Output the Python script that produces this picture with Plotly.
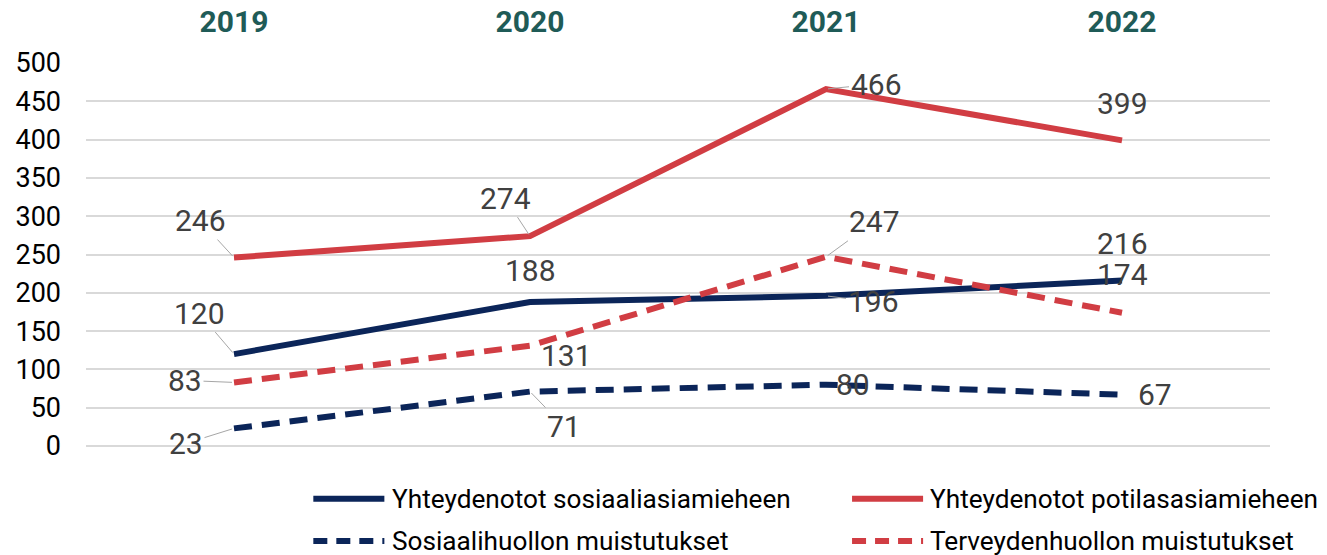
import plotly.graph_objects as go

years = ["2019", "2020", "2021", "2022"]
series_names = [
    "Yhteydenotot sosiaaliasiamieheen",
    "Yhteydenotot potilasasiamieheen",
    "Sosiaalihuollon muistutukset",
    "Terveydenhuollon muistutukset",
]
sos_contacts = [120, 188, 196, 216]
pot_contacts = [246, 274, 466, 399]
sos_reminders = [23, 71, 80, 67]
ter_reminders = [83, 131, 247, 174]

NAVY = "#0B2559"
RED = "#D13D43"
series_values = [sos_contacts, pot_contacts, sos_reminders, ter_reminders]
series_colors = [NAVY, RED, NAVY, RED]
series_dash = ["solid", "solid", "18px,10px", "18px,10px"]

# label offsets in pixels (dx, dy) and whether a leader line is drawn
label_style = [
    [(-35, -41, True), (0, -31, False), (47, 6, True), (0, -37, False)],
    [(-34, -37, True), (-25, -38, True), (50, -5, True), (0, -37, False)],
    [(-48, 15, True), (34, 35, True), (27, 0, False), (33, 0, False)],
    [(-49, -2, True), (36, 10, False), (48, -35, True), (0, -38, False)],
]

fig = go.Figure()
for name, vals, col, dash in zip(series_names, series_values, series_colors, series_dash):
    fig.add_trace(go.Scatter(
        x=years, y=vals, mode="lines", name=name,
        line=dict(color=col, width=6, dash=dash),
        showlegend=False,
    ))

annotations = []
label_font = dict(family="Roboto", size=30, color="#404040")
for vals, styles in zip(series_values, label_style):
    for i, (v, (dx, dy, lead)) in enumerate(zip(vals, styles)):
        if lead:
            annotations.append(dict(
                x=i, y=v, xref="x", yref="y", text=str(v),
                showarrow=True, ax=dx, ay=dy, arrowhead=0, arrowwidth=1,
                arrowcolor="#A6A6A6", standoff=2, font=label_font,
            ))
        else:
            annotations.append(dict(
                x=i, y=v, xref="x", yref="y", text=str(v),
                showarrow=False, xshift=dx, yshift=-dy, font=label_font,
            ))

# manual legend
legend_pos = [(0.192, -0.138), (0.647, -0.138), (0.192, -0.248), (0.647, -0.248)]
leg_dash = ["solid", "solid", "14px,9px", "14px,9px"]
shapes = []
for name, col, d, (lx, ly) in zip(series_names, series_colors, leg_dash, legend_pos):
    shapes.append(dict(type="line", xref="paper", yref="paper",
                       x0=lx, x1=lx + 0.06, y0=ly, y1=ly,
                       line=dict(color=col, width=6, dash=d)))
    annotations.append(dict(x=lx + 0.0645, y=ly, xref="paper", yref="paper",
                            text=name, showarrow=False, xanchor="left", yanchor="middle",
                            font=dict(family="Roboto", size=26.2, color="#000000")))

fig.update_layout(
    width=1327, height=555,
    margin=dict(l=86, r=57, t=63, b=109),
    plot_bgcolor="white", paper_bgcolor="white",
    annotations=annotations, shapes=shapes,
    xaxis=dict(type="category", range=[-0.5, 3.5], side="top", showgrid=False,
               showline=False, ticks="", ticklabelstandoff=24, automargin=False,
               tickfont=dict(family="Roboto", size=30, color="#1F5B57", weight="bold")),
    yaxis=dict(range=[0, 500], dtick=50, showgrid=True, gridcolor="#D9D9D9", gridwidth=2,
               zeroline=True, zerolinecolor="#D9D9D9", zerolinewidth=2, automargin=False,
               showline=False, ticks="", ticklabelstandoff=24,
               tickfont=dict(family="Roboto", size=27, color="#000000")),
)

fig.write_html("out.html", config={"displayModeBar": False},
               post_script="document.body.style.margin='0';document.body.style.overflow='hidden';")
